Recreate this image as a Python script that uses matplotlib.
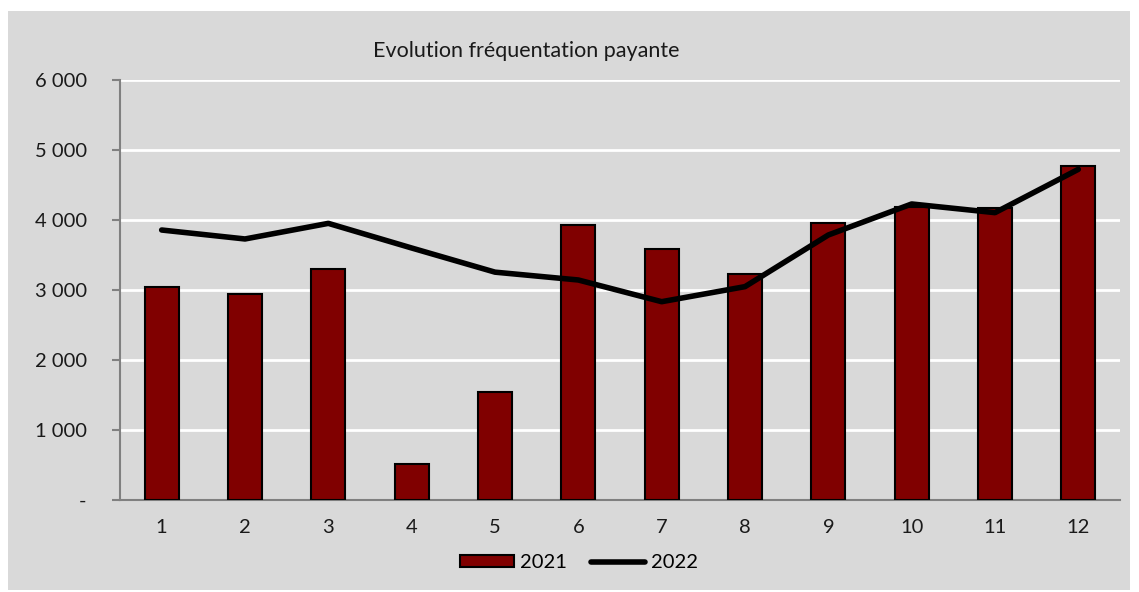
import matplotlib
matplotlib.use("Agg")
import matplotlib.pyplot as plt
from matplotlib.patches import Rectangle
from matplotlib.ticker import FuncFormatter

months = [1, 2, 3, 4, 5, 6, 7, 8, 9, 10, 11, 12]
values_2021 = [3050, 2940, 3300, 520, 1540, 3925, 3580, 3225, 3960, 4190, 4170, 4770]
values_2022 = [3857, 3729, 3952, 3600, 3255, 3143, 2833, 3048, 3786, 4229, 4105, 4724]
yticks = [0, 1000, 2000, 3000, 4000, 5000, 6000]
title = "Evolution fréquentation payante"

plt.rcParams['font.family'] = ['Lato', 'DejaVu Sans']

W, H = 1139, 592
fig = plt.figure(figsize=(W / 100, H / 100), dpi=100, facecolor='white')
fig.patches.append(Rectangle((8 / W, 2 / H), 1122 / W, 579 / H, transform=fig.transFigure,
                             facecolor='#d9d9d9', edgecolor='none', zorder=-10))

ax = fig.add_axes([120 / W, 1 - 500 / H, 1000 / W, 420 / H])
ax.set_facecolor('none')

bars = ax.bar(months, values_2021, width=0.41, color='#800000', edgecolor='black', linewidth=1.5,
              label='2021', zorder=3)
line, = ax.plot(months, values_2022, color='black', linewidth=4, solid_capstyle='round',
                solid_joinstyle='round', label='2022', zorder=4)

ax.set_xlim(0.5, 12.5)
ax.set_ylim(0, 6000)
ax.set_xticks(months)
ax.set_xticklabels([str(m) for m in months])
ax.set_yticks(yticks)
ax.yaxis.set_major_formatter(FuncFormatter(
    lambda v, p: '-' if v == 0 else f"{int(v):,}".replace(',', ' ')))

ax.grid(axis='y', color='white', linewidth=2, zorder=1)
ax.set_axisbelow(True)
for s in ['top', 'right']:
    ax.spines[s].set_visible(False)
for s in ['left', 'bottom']:
    ax.spines[s].set_color('#808080')
    ax.spines[s].set_linewidth(1.5)

ax.tick_params(axis='y', length=6, width=1.5, color='#808080', labelsize=14.5,
               labelcolor='#1a1a1a', pad=18)
ax.tick_params(axis='x', length=0, labelsize=14.5, labelcolor='#1a1a1a', pad=14)

fig.text(373 / W, 1 - 51 / H, title, fontsize=15.5, color='#1a1a1a', ha='left', va='center')

fig.legend([bars, line], ['2021', '2022'], loc='center', bbox_to_anchor=(579 / W, 1 - 563 / H),
           ncol=2, frameon=False, fontsize=14.5, handlelength=2.7, handleheight=0.55,
           columnspacing=1.2, handletextpad=0.3)

fig.savefig('out.png', dpi=100, facecolor='white')
